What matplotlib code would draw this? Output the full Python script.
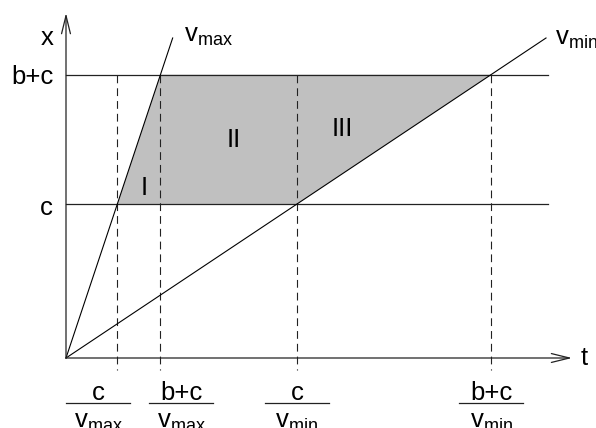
import matplotlib.pyplot as plt
from matplotlib.patches import Polygon

plt.rcParams['font.family'] = ['Liberation Sans', 'DejaVu Sans']
plt.rcParams['mathtext.fontset'] = 'custom'
plt.rcParams['mathtext.rm'] = 'Liberation Sans'

# Distances and speeds (arbitrary units)
c = 1.0
b = 0.84
v_max = 3.0
v_min = 2.0 / 3.0

x_levels = [c, b + c]
x_level_labels = ['c', 'b+c']
t_marks = [c / v_max, (b + c) / v_max, c / v_min, (b + c) / v_min]
t_num = ['c', 'b+c', 'c', 'b+c']
t_den = [r'$\mathregular{v_{max}}$', r'$\mathregular{v_{max}}$',
         r'$\mathregular{v_{min}}$', r'$\mathregular{v_{min}}$']
# label centres nudged apart for the two crowded v_max marks
t_label_shift = [-0.125, 0.134, 0.0, 0.0]
regions = ['I', 'II', 'III']
region_pos = [(0.51, 1.058), (1.088, 1.370), (1.795, 1.442)]

FS = 18.5
fig = plt.figure(figsize=(5.96, 4.28), dpi=100)
ax = fig.add_axes([0, 0, 1, 1])
ax.set_xlim(-66 / 154, 530 / 154)
ax.set_ylim(-70 / 154, 358 / 154)
ax.axis('off')

t_end = 3.13
x_top = 2.078

# shaded region between the two speed lines
poly = Polygon([(t_marks[0], c), (t_marks[2], c), (t_marks[3], b + c), (t_marks[1], b + c)],
               closed=True, facecolor='#c0c0c0', edgecolor='none', zorder=1)
ax.add_patch(poly)

# horizontal levels
for lev, lab in zip(x_levels, x_level_labels):
    ax.plot([0, t_end], [lev, lev], color='#222222', lw=0.9, zorder=2)

# dashed verticals
for t in t_marks:
    ax.plot([t, t], [b + c, -0.08], color='#222222', lw=0.8,
            linestyle=(0, (7, 4.5)), zorder=2)

# speed lines
ax.plot([0, x_top / v_max], [0, x_top], color='black', lw=0.8, zorder=3)
ax.plot([0, x_top / v_min], [0, x_top], color='black', lw=0.8, zorder=3)

# axes with open arrow heads
arrow = dict(arrowstyle='->,head_length=1.3,head_width=0.32', mutation_scale=10,
             color='#222222', lw=0.9, shrinkA=0, shrinkB=0)
ax.annotate('', xy=(0, 2.24), xytext=(0, 0), arrowprops=arrow)
ax.annotate('', xy=(3.286, 0), xytext=(0, 0), arrowprops=arrow)

ax.text(-0.123, 2.032, 'x', fontsize=FS, ha='center', va='baseline')
ax.text(3.344, -0.045, 't', fontsize=FS, ha='left', va='baseline')
ax.text(0.766, 2.052, r'$\mathregular{v_{max}}$', fontsize=FS, ha='left', va='baseline')
ax.text(3.175, 2.032, r'$\mathregular{v_{min}}$', fontsize=FS, ha='left', va='baseline')

ax.text(-0.078, 1.779, 'b+c', fontsize=FS, ha='right', va='baseline')
ax.text(-0.084, 0.929, 'c', fontsize=FS, ha='right', va='baseline')

for lab, (px, py) in zip(regions, region_pos):
    ax.text(px, py, lab, fontsize=FS, ha='center', va='baseline')

# fraction labels under the t axis
half = 32 / 154
for t, num, den, dx in zip(t_marks, t_num, t_den, t_label_shift):
    tc = t + dx
    ax.text(tc, -0.273, num, fontsize=FS, ha='center', va='baseline')
    ax.plot([tc - half, tc + half], [-0.292, -0.292], color='#222222', lw=0.9)
    ax.text(tc, -0.456, den, fontsize=FS, ha='center', va='baseline')

fig.savefig('out.png', dpi=100)
